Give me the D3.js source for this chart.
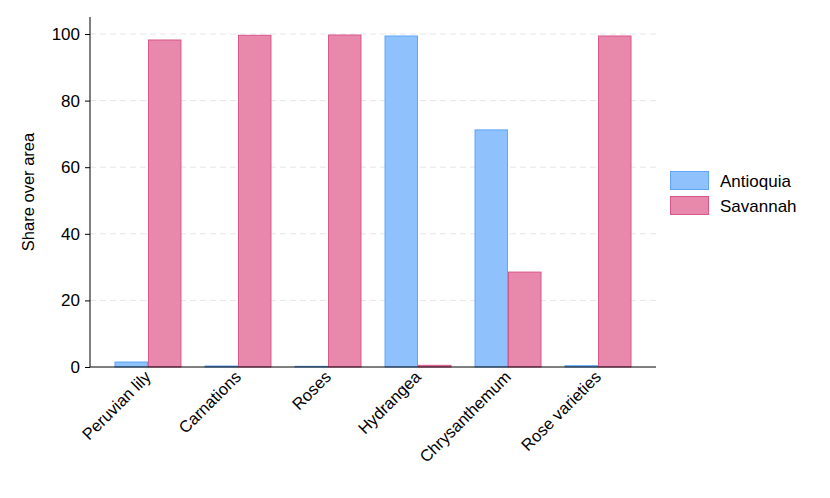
<!DOCTYPE html>
<html><head><meta charset="utf-8">
<script src="https://cdn.jsdelivr.net/npm/d3@7"></script>
<style>body{margin:0;background:#fff}svg{display:block;font-family:"Liberation Sans",Arial,sans-serif}</style>
</head><body>
<svg id="c" width="830" height="498"></svg>
<script>
const categories = ["Peruvian lily","Carnations","Roses","Hydrangea","Chrysanthemum","Rose varieties"];
const seriesNames = ["Antioquia","Savannah"];
const antioquia = [1.5, 0.3, 0.2, 99.4, 71.2, 0.4];
const savannah = [98.2, 99.6, 99.7, 0.5, 28.5, 99.4];
const yTicks = [0,20,40,60,80,100];
const fills = ["#8fc1fd","#e889ab"];
const strokes = ["#5ea6f7","#d9558a"];

const svg = d3.select("#c");
const L=90, R=656, T=17, B=367;
const x = d3.scaleBand().domain(categories).range([L,R]).paddingInner(0.256).paddingOuter(0.272);
const xs = d3.scaleBand().domain(seriesNames).range([0,x.bandwidth()]);
const y = d3.scaleLinear().domain([0,100]).range([B,34]);

// grid
svg.append("g").selectAll("line").data(yTicks.filter(d=>d>0)).join("line")
  .attr("x1",L).attr("x2",R).attr("y1",d=>y(d)).attr("y2",d=>y(d))
  .attr("stroke","#e6e6e6").attr("stroke-dasharray","6,4").attr("stroke-width",1);

const data = [antioquia, savannah];
data.forEach((vals,si)=>{
  svg.append("g").selectAll("rect").data(vals).join("rect")
    .attr("x",(d,i)=>x(categories[i])+xs(seriesNames[si])+0.5)
    .attr("width",xs.bandwidth()-1)
    .attr("y",d=>y(d))
    .attr("height",d=>B-y(d))
    .attr("fill",fills[si]).attr("stroke",strokes[si]).attr("stroke-width",1);
});

const FF = "Liberation Sans, Arial, sans-serif";
// y axis
const ya = svg.append("g").attr("transform",`translate(${L},0)`)
  .call(d3.axisLeft(y).tickValues(yTicks).tickSize(5).tickPadding(5));
ya.select(".domain").attr("d",`M0,${T}V${B}`).attr("stroke","#000");
ya.selectAll(".tick line").attr("stroke","#000");
ya.selectAll("text").attr("font-size",17).attr("fill","#000").attr("font-family",FF);

// x axis
const xa = svg.append("g").attr("transform",`translate(0,${B})`)
  .call(d3.axisBottom(x).tickSize(0).tickPadding(0));
xa.select(".domain").attr("d",`M${L},0H${R}`).attr("stroke","#000");
xa.selectAll("text").attr("font-size",16.5).attr("fill","#000")
  .attr("font-family",FF)
  .attr("text-anchor","end").attr("dy",0)
  .attr("transform","translate(4,11) rotate(-45)");

// y title
svg.append("text").attr("transform",`translate(34,192) rotate(-90)`)
  .attr("text-anchor","middle").attr("font-size",16.5).attr("font-family",FF).text("Share over area");

// legend
const lg = svg.append("g");
seriesNames.forEach((n,i)=>{
  lg.append("rect").attr("x",670.5).attr("y",171.5+i*25).attr("width",38).attr("height",18)
    .attr("fill",fills[i]).attr("stroke",strokes[i]);
  lg.append("text").attr("x",720).attr("y",187+i*25).attr("font-size",17).attr("font-family",FF).text(n);
});
</script>
</body></html>
